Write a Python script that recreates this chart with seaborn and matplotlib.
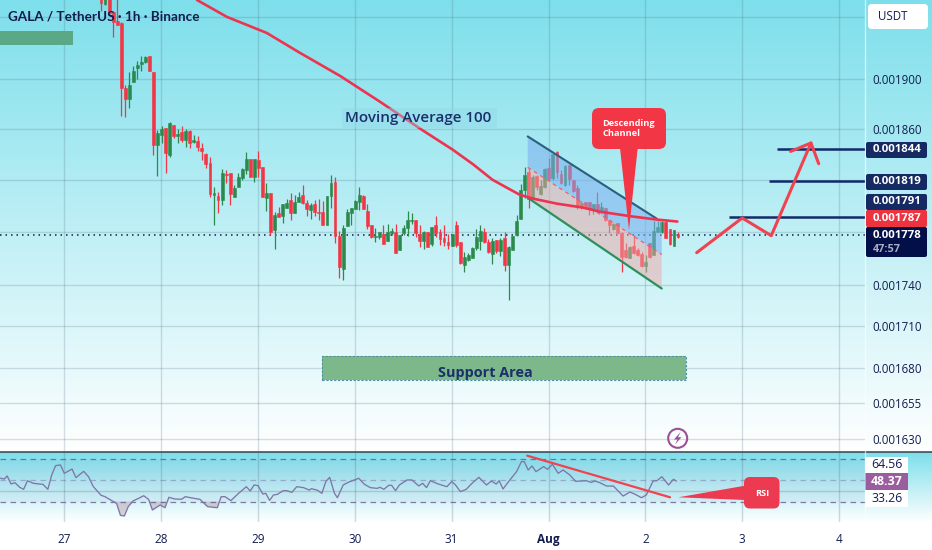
import numpy as np
import pandas as pd
import matplotlib
matplotlib.use("Agg")
import matplotlib.pyplot as plt
from matplotlib.patches import FancyBboxPatch, Polygon, Circle
import seaborn as sns

# ---------- data (prices in units of 1e-6 USDT) ----------
first_candle_day = 27.379
opens = [1975,1961,1968,1954.6,1947.1,1945.5,1892.6,1883.7,1897.3,1908.7,
 1911.9,1913.5,1918.4,1905.5,1847.2,1855.1,1860.7,1839.4,1863,1854.3,
 1857.5,1851.1,1858.3,1849.6,1850.3,1844.9,1840.2,1833.2,1808.5,1807.7,
 1804.6,1824.7,1825.5,1806.9,1814.6,1821.5,1827.8,1836.3,1822.3,1835.5,
 1830.1,1806.1,1810,1781.8,1794.7,1792.4,1798.5,1804.6,1794.7,1803.1,
 1808.5,1802.3,1797,1801.5,1795.4,1795.4,1785.6,1807.7,1818.5,1777.2,
 1752.5,1784.8,1794.7,1797.7,1803.1,1807.7,1796.2,1785.6,1776.5,1776.5,
 1778.8,1773.4,1779.5,1780.3,1766.7,1779.5,1783.3,1788.6,1789.4,1778.8,
 1773.4,1780.3,1771.2,1785.6,1780.3,1775.7,1772.7,1769.7,1785.6,1772.7,
 1755.5,1759.2,1760.7,1768.2,1773.4,1780.3,1772.7,1763.7,1774.2,1766,
 1775.7,1755.5,1766.7,1778,1790.1,1812.3,1826.2,1806.1,1823.1,1809.2,
 1814.6,1829.3,1821.5,1841.8,1824.7,1816.1,1831.6,1820,1813.8,1800,
 1803.1,1803.1,1797,1801.5,1795.4,1798.5,1789.4,1782.6,1787.1,1779.5,
 1766.7,1760.7,1769.7,1766.7,1763.7,1754.7,1772,1763,1780.3,1780.3,
 1787.9,1782.6,1769.7,1778.8]
highs = [1980,1975,1970,1955.5,1970,1946.3,1894.9,1905.5,1910.3,1914.3,
 1918.4,1918.4,1918.4,1905.5,1859.1,1862.2,1860.7,1865.3,1863,1859.9,
 1862.2,1859.9,1859.1,1855.1,1854.3,1848.8,1841,1837.9,1814.6,1810.8,
 1828.6,1827.8,1825.5,1816.1,1825.5,1829.3,1841.8,1836.3,1836.3,1842.6,
 1830.1,1817.7,1810,1795.4,1799.3,1801.5,1805.4,1810,1808.5,1810.8,
 1816.1,1804.6,1802.3,1804.6,1805.4,1803.8,1807.7,1823.9,1822.3,1781,
 1785.6,1797.7,1798.5,1804.6,1814.6,1808.5,1801.5,1785.6,1783.3,1780.3,
 1785.6,1786.4,1783.3,1786.4,1778,1785.6,1796.2,1794.7,1789.4,1785.6,
 1781,1780.3,1784.1,1792.4,1782.6,1785.6,1778.8,1778.8,1788.6,1772.7,
 1765.2,1764.4,1769,1782.6,1785.6,1783.3,1775,1775.7,1774.2,1775.7,
 1780.3,1769.7,1777.2,1793.2,1816.9,1830.1,1829.3,1823.9,1823.9,1820,
 1829.3,1837.1,1840.2,1842.6,1827.8,1831.6,1831.6,1820,1816.1,1803.8,
 1803.1,1803.1,1801.5,1810.8,1803.1,1798.5,1789.4,1787.1,1787.1,1780.3,
 1772,1769.7,1778,1768.2,1765.2,1763,1772,1788.6,1788.6,1788.6,
 1788.6,1782.6,1781.8,1780.3]
lows = [1955,1960,1953.8,1934,1943.8,1870.1,1869.3,1876.5,1897.3,1899.7,
 1906.3,1912.7,1906.3,1839.4,1823.1,1848.8,1825.5,1837.9,1852.7,1848.8,
 1849.6,1845.7,1844.9,1848.8,1842.6,1835.5,1829.3,1806.9,1785.6,1794.7,
 1800.8,1817.7,1800.8,1806.9,1814.6,1820,1824.7,1822.3,1818.5,1822.3,
 1806.9,1796.2,1778,1767.5,1791.7,1787.1,1798.5,1789.4,1794.7,1803.1,
 1801.5,1792.4,1790.1,1792.4,1789.4,1785.6,1785.6,1798.5,1772,1745.8,
 1744.3,1784.8,1785.6,1797.7,1797,1797.7,1782.6,1775.7,1772.7,1775,
 1771.2,1773.4,1778,1764.4,1766.7,1778,1777.2,1786.4,1776.5,1769,
 1767.5,1769,1769.7,1776.5,1770.5,1769.7,1767.5,1769.7,1769,1756.2,
 1749.6,1758.5,1760.7,1766.7,1766.7,1772,1764.4,1756.2,1764.4,1762.2,
 1751,1729.6,1766.7,1777.2,1790.1,1806.1,1798.5,1806.1,1812.3,1808.5,
 1813.8,1819.2,1820,1821.5,1816.9,1815.4,1816.1,1810.8,1797.7,1797.7,
 1797.7,1793.2,1793.9,1795.4,1794.7,1788.6,1779.5,1781.8,1779.5,1749.6,
 1760.7,1760.7,1763.7,1762.2,1753.9,1750.3,1760.7,1763,1780.3,1779.5,
 1775.7,1770.5,1769.7,1775.7]
closes = [1962,1968,1953.8,1946.3,1943.8,1892.6,1883.7,1894.9,1906.3,1911.1,
 1913.5,1917.6,1906.3,1847.2,1856.7,1859.9,1841,1864.5,1854.3,1855.9,
 1851.1,1858.3,1848.8,1851.1,1845.7,1842.6,1832.4,1809.2,1810,1804.6,
 1825.5,1823.9,1809.2,1813.8,1822.3,1828.6,1836.3,1822.3,1836.3,1829.3,
 1806.9,1810,1780.3,1793.2,1791.7,1801.5,1802.3,1794.7,1803.1,1806.9,
 1802.3,1797.7,1800.8,1795.4,1794.7,1785.6,1807.7,1817.7,1777.2,1753.3,
 1783.3,1795.4,1798.5,1803.8,1808.5,1797.7,1784.8,1776.5,1777.2,1780.3,
 1771.2,1780.3,1781,1764.4,1778,1783.3,1789.4,1789.4,1779.5,1773.4,
 1780.3,1769,1784.1,1779.5,1775,1772.7,1770.5,1778.8,1770.5,1757,
 1761.5,1763,1768.2,1776.5,1781,1772.7,1765.2,1773.4,1766,1774.2,
 1755.5,1769,1777.2,1788.6,1812.3,1823.9,1805.4,1822.3,1814.6,1815.4,
 1828.6,1820.8,1840.2,1826.2,1817.7,1830.9,1820.8,1811.5,1799.3,1802.3,
 1799.3,1798.5,1801.5,1797,1799.3,1789.4,1785.6,1786.4,1779.5,1761.5,
 1761.5,1769,1764.4,1763,1754.7,1757.7,1761.5,1781,1784.1,1787.9,
 1775.7,1771.2,1781.8,1776.5]

ma_days = [28.37,28.68,29.09,29.43,29.85,30.26,30.69,31.01,31.22,31.42,31.57,31.70,31.84,32.09,32.36,32.53,32.87,33.12,33.33]
ma_vals = [1964.5,1950.4,1937.2,1921,1902,1881.3,1859.1,1843.4,1832,1820,1813.8,1808.5,1805.4,1801.5,1798.5,1795.4,1791.7,1789.4,1787.9]

rsi_days = [26.34,26.38,26.41,26.45,26.49,26.54,26.58,26.62,26.68,26.78,26.83,26.87,26.91,26.96,27.00,27.08,27.12,27.20,27.25,27.30,
 27.38,27.42,27.51,27.54,27.58,27.62,27.66,27.71,27.78,27.82,27.87,27.91,27.99,28.04,28.08,28.14,28.21,28.25,28.32,28.40,
 28.48,28.58,28.62,28.66,28.72,28.80,28.88,28.92,28.96,29.00,29.05,29.08,29.12,29.16,29.20,29.26,29.30,29.35,29.40,29.47,
 29.53,29.55,29.61,29.66,29.70,29.74,29.79,29.82,29.88,29.93,30.04,30.10,30.16,30.23,30.26,30.30,30.35,30.38,30.42,30.46,
 30.54,30.59,30.66,30.70,30.74,30.78,30.86,30.95,31.00,31.04,31.09,31.15,31.21,31.28,31.36,31.41,31.46,31.49,31.53,31.60,
 31.67,31.72,31.75,31.79,31.83,31.87,31.95,31.99,32.04,32.10,32.15,32.22,32.28,32.39,32.44,32.48,32.53,32.60,32.67,32.77,
 32.84,32.89,32.96,33.01,33.08,33.12,33.17,33.24,33.29,33.32]
rsi_vals = [52.1,51.4,54.3,46.7,47.9,43.5,41.6,49.8,47.3,46.3,41.6,55.2,64.1,64.8,56.8,60.9,52.7,58.7,53.6,44.1,
 35.9,34.6,29.8,28.2,16.8,16.2,25.1,30.5,33.6,35.5,32.1,21.9,26.7,24.1,34.0,32.4,32.1,34.6,33.3,32.1,
 25.1,24.1,34.6,34.6,30.8,37.8,44.1,40,45.7,45.1,37.1,37.8,31.1,36.2,36.8,40.3,40.3,38.7,44.1,43.2,
 40.9,42.2,40.9,37.8,48.9,53,37.8,33.6,45.7,48.2,52.1,46.3,43.2,42.5,43.5,41.6,45.4,45.4,40.3,45.7,
 50.5,50.5,44.8,47.3,43.2,49.8,46.7,44.1,48.9,45.7,39.4,41.6,47.3,53,45.7,49.5,46.6,49.8,41.9,50.4,
 58.4,67.9,67.9,60,63.8,58.4,63.2,60.6,65.4,56.8,60,55.2,49.2,49.8,48.2,49.5,47.9,44.7,44.7,35.2,
 39,37.1,33.6,36.2,49.5,49.8,53.6,45.7,51.1,49.5]
rsi_levels = [70, 50, 30]
rsi_trend_days = [31.78, 33.255]
rsi_trend_vals = [73.6, 34.0]

price_ticks = [1630, 1655, 1680, 1710, 1740, 1780, 1820, 1860, 1900, 1950]
price_tick_labels = ["0.001630","0.001655","0.001680","0.001710","0.001740","","","0.001860","0.001900",""]
day_ticks = [27, 28, 29, 30, 31, 32, 33, 34, 35]
day_labels = ["27", "28", "29", "30", "31", "Aug", "2", "3", "4"]

last_price = 1778
level_prices = [1844, 1819, 1791.7]
level_starts = [34.36, 34.28, 33.86]

channel_top_days = [31.785, 33.117]
channel_top_vals = [1853.8, 1790.1]
channel_mid_days = [31.785, 33.169]
channel_mid_vals = [1829.6, 1763]
channel_bot_days = [31.785, 33.169]
channel_bot_vals = [1806.1, 1737.7]
channel_top_end = 1787.9

path_days = [33.53, 34.0, 34.3, 34.71, 34.79]
path_vals = [1764.4, 1790.6, 1777.2, 1848.6, 1832.4]
head_days = [34.5, 34.71]
head_vals = [1842, 1848.6]

support_days = [29.66, 33.42]
support_vals = [1671.1, 1688.9]
old_zone_days = [26.3, 27.085]
old_zone_vals = [1927.4, 1938.9]

# ---------- style ----------
sns.set_theme(style="white")
plt.rcParams["font.family"] = ["Open Sans", "DejaVu Sans"]
W, H = 932, 550
NAVY = "#131c4e"
RED = "#f23645"
GREEN = "#2b8a4b"
LINE_RED = "#f0424f"
fig = plt.figure(figsize=(W / 100, H / 100), dpi=100, facecolor="white")

def rect(x0, y0, x1, y1):
    return [x0 / W, 1 - y1 / H, (x1 - x0) / W, (y1 - y0) / H]

# background gradient, full width
bg = fig.add_axes([0, 0, 1, 1], zorder=0)
bg.axis("off")
top = np.array([0x7d, 0xdf, 0xeb]) / 255
ramp = np.ones((H, 1, 3))
for row in range(452):
    ramp[row, 0] = top + (1 - top) * row / 451
for row in range(452, 522):
    ramp[row, 0] = top + (1 - top) * (row - 452) / 70
bg.imshow(ramp, aspect="auto", extent=(0, W, H, 0), interpolation="bilinear")

# ---------- main price pane ----------
xlim = (26.336, 35.268)
ax = fig.add_axes(rect(0, 0, 865, 451), zorder=1, facecolor="none")
ax.set_yscale("log")
ax.set_xlim(*xlim)
ax.set_ylim(1621.7, 1964.5)
ax.minorticks_off()
ax.set_yticks(price_ticks)
ax.set_yticklabels(price_tick_labels)
ax.yaxis.set_minor_locator(matplotlib.ticker.NullLocator())
ax.yaxis.tick_right()
ax.tick_params(axis="y", length=0, pad=5.6, labelsize=8.3, labelcolor=NAVY)
ax.set_xticks(day_ticks)
ax.tick_params(axis="x", length=0, labelbottom=False)
ax.grid(True, color="#4a6b80", alpha=0.22, lw=1)
ax.set_axisbelow(True)
for s in ax.spines.values():
    s.set_visible(False)

df = pd.DataFrame({"open": opens, "high": highs, "low": lows, "close": closes})
df["day"] = first_candle_day + np.arange(len(df)) / 24
df["colour"] = np.where(df["close"] >= df["open"], GREEN, RED)
ax.vlines(df["day"], df["low"], df["high"], colors=df["colour"], lw=0.9, zorder=3)
ax.bar(df["day"], (df["close"] - df["open"]).abs(), bottom=df[["open", "close"]].min(axis=1),
       width=0.72 / 24, color=df["colour"], edgecolor=df["colour"], linewidth=0.4, zorder=3)

ax.axhline(last_price, color="#10204f", lw=1.1, ls=(0, (1, 2.6)), zorder=2)

# channel
top_d = channel_top_days + [channel_mid_days[1]]
top_v = channel_top_vals + [channel_top_end]
ax.add_patch(Polygon(list(zip(top_d, top_v)) + [(channel_mid_days[1], channel_mid_vals[1]), (channel_mid_days[0], channel_mid_vals[0])],
                     closed=True, fc="#7aaef0", alpha=0.55, ec="none", zorder=4))
ax.add_patch(Polygon([(channel_mid_days[0], channel_mid_vals[0]), (channel_mid_days[1], channel_mid_vals[1]),
                      (channel_bot_days[1], channel_bot_vals[1]), (channel_bot_days[0], channel_bot_vals[0])],
                     closed=True, fc="#f0a8a8", alpha=0.5, ec="none", zorder=4))
ax.plot(channel_mid_days, channel_mid_vals, color="#f0606a", lw=0.9, ls=(0, (3, 3)), zorder=5)
ax.plot(channel_top_days, channel_top_vals, color="#2c5f7e", lw=1.5, zorder=5)
ax.plot(channel_bot_days, channel_bot_vals, color="#2f8f5b", lw=1.6, zorder=5)

# MA 100
ma_df = pd.DataFrame({"day": ma_days, "ma": ma_vals})
sns.lineplot(data=ma_df, x="day", y="ma", ax=ax, color="#ee3350", lw=1.9, zorder=6, errorbar=None)

# zones
ax.fill_between(support_days, support_vals[0], support_vals[1], color="#7db88a", lw=0, zorder=4)
ax.plot([support_days[0], support_days[1], support_days[1], support_days[0], support_days[0]],
        [support_vals[0], support_vals[0], support_vals[1], support_vals[1], support_vals[0]],
        color="#4f8fa0", lw=0.8, ls=(0, (2, 1.5)), zorder=4)
ax.fill_between(old_zone_days, old_zone_vals[0], old_zone_vals[1], color="#5ba887", lw=0, zorder=4)

# targets and path
for price, start in zip(level_prices, level_starts):
    ax.hlines(price, start, xlim[1], color="#12296a", lw=1.8, zorder=6)
path_df = pd.DataFrame({"day": path_days, "price": path_vals})
sns.lineplot(data=path_df, x="day", y="price", ax=ax, sort=False, color=LINE_RED, lw=2.2, zorder=7, errorbar=None)
ax.plot(head_days, head_vals, color=LINE_RED, lw=2.2, zorder=7)
ax.set_xlabel("")
ax.set_ylabel("")
ax.set_xlim(*xlim)
ax.set_ylim(1621.7, 1964.5)

# ---------- RSI pane ----------
rx = fig.add_axes(rect(0, 452, 865, 522), zorder=1, facecolor="none")
rx.set_xlim(*xlim)
rx.set_ylim(10.5, 77.1)
rx.axhspan(rsi_levels[2], rsi_levels[0], color="#7b5ea8", alpha=0.06, lw=0)
rx.set_xticks(day_ticks)
rx.set_xticklabels(day_labels)
rx.set_yticks([40])
rx.tick_params(axis="y", length=0, labelleft=False)
rx.tick_params(axis="x", length=0, pad=8, labelsize=8.5, labelcolor=NAVY)
rx.get_xticklabels()[5].set_fontweight("bold")
rx.grid(True, color="#4a6b80", alpha=0.25, lw=1)
rx.set_axisbelow(True)
for s in rx.spines.values():
    s.set_visible(False)
for lev, a in zip(rsi_levels, [0.8, 0.4, 0.8]):
    rx.axhline(lev, color="#6a5a90", lw=0.9, ls=(0, (4.5, 3.5)), alpha=a)
rs = pd.DataFrame({"day": rsi_days, "rsi": rsi_vals})
rx.fill_between(rs["day"], rs["rsi"], rsi_levels[2], where=rs["rsi"] < rsi_levels[2],
                interpolate=True, color="#b08a9a", alpha=0.4, lw=0)
sns.lineplot(data=rs, x="day", y="rsi", ax=rx, color="#7d77a6", lw=0.95, errorbar=None)
rt = pd.DataFrame({"day": rsi_trend_days, "rsi": rsi_trend_vals})
sns.lineplot(data=rt, x="day", y="rsi", ax=rx, color=LINE_RED, lw=1.6, errorbar=None, zorder=5)
rx.set_xlabel("")
rx.set_ylabel("")
rx.set_xlim(*xlim)
rx.set_ylim(10.5, 77.1)
for lab in rx.get_xticklabels():
    lab.set_color(NAVY)

# ---------- overlay: price-scale tags, callouts, titles ----------
ov = fig.add_axes([0, 0, 1, 1], zorder=5, facecolor="none")
ov.set_xlim(0, W)
ov.set_ylim(H, 0)
ov.axis("off")

def box(x0, y0, x1, y1, color, r=3, z=2, alpha=1.0):
    ov.add_patch(FancyBboxPatch((x0, y0), x1 - x0, y1 - y0, boxstyle=f"round,pad=0,rounding_size={r}",
                                fc=color, ec="none", zorder=z, alpha=alpha))

ov.plot([0, W], [451.5, 451.5], color="#3a3f4a", lw=1.1, zorder=1)
ov.plot([865, 865], [0, 522], color="white", lw=1.0, alpha=0.6, zorder=1)

box(868, 4, 928, 29, "white", r=4)
ov.text(878, 17, "USDT", fontsize=8.3, color=NAVY, va="center", ha="left", zorder=3)

tags = [(142, 158, "#152a63", "0.001844"), (174, 190, "#152a63", "0.001819"),
        (194, 210, "#152a63", "0.001791"), (210, 227, "#ee3340", "0.001787")]
for y0, y1, c, t in tags:
    box(866, y0, 927, y1, c, r=2)
    ov.text(873, (y0 + y1) / 2, t, fontsize=8.2, color="white", fontweight="bold", va="center", ha="left", zorder=3)
box(866, 227, 927, 257, "#030f48", r=2)
ov.text(873, 235, "0.001778", fontsize=8.2, color="white", fontweight="bold", va="center", ha="left", zorder=3)
ov.text(873, 249, "47:57", fontsize=7.8, color="#a9adc0", fontweight="bold", va="center", ha="left", zorder=3)

box(865, 457, 908, 473, "white", r=0)
box(865, 490, 908, 507, "white", r=0)
box(865.5, 473, 908, 490, "#9a5e9f", r=0)
ov.text(887, 465, "64.56", fontsize=8.8, color=NAVY, va="center", ha="center", zorder=3)
ov.text(887, 481.5, "48.37", fontsize=8.8, color="white", fontweight="bold", va="center", ha="center", zorder=3)
ov.text(887, 498.5, "33.26", fontsize=8.8, color=NAVY, va="center", ha="center", zorder=3)

ov.text(8, 16.5, "GALA / TetherUS · 1h · Binance", fontsize=9.7, color=NAVY, fontweight="bold",
        family=["Lato", "DejaVu Sans"], va="center", ha="left", zorder=3)

box(342, 108, 497, 128, "#8fd6e6", r=1, z=1, alpha=0.4)
ov.text(345, 118, "Moving Average 100", fontsize=10.9, color="#1a2f6b", fontweight="semibold", va="center", ha="left", zorder=3)
ov.text(438, 373, "Support Area", fontsize=10.4, color="#1a2f6b", fontweight="bold", va="center", ha="left", zorder=3)

# callouts
box(592, 108, 666, 149, RED, r=7)
ov.add_patch(Polygon([(620, 148), (637.7, 148), (629, 230)], closed=True, fc=RED, ec="none", zorder=2))
ov.text(602.5, 123, "Descending", fontsize=6.6, color="white", fontweight="bold", va="center", ha="left", zorder=3)
ov.text(602.5, 133, "Channel", fontsize=6.6, color="white", fontweight="bold", va="center", ha="left", zorder=3)

box(744, 477, 779.5, 508.5, "#ec3a50", r=6)
ov.add_patch(Polygon([(745, 485.7), (745, 500), (678.3, 497.3)], closed=True, fc="#ec3a50", ec="none", zorder=2))
ov.text(762, 493, "RSI", fontsize=6.6, color="white", fontweight="bold", va="center", ha="center", zorder=3)

# session-break icon
ov.add_patch(Circle((677.7, 438.3), 9.5, fc="none", ec="#9c4f96", lw=1.5, zorder=3))
ov.add_patch(Polygon([(680.5, 432), (674, 439.5), (677.5, 439.5), (675, 444.5), (681.5, 437.2), (678, 437.2)],
                     closed=True, fc="#9c4f96", ec="none", zorder=3))

fig.savefig("out.png", dpi=100)
